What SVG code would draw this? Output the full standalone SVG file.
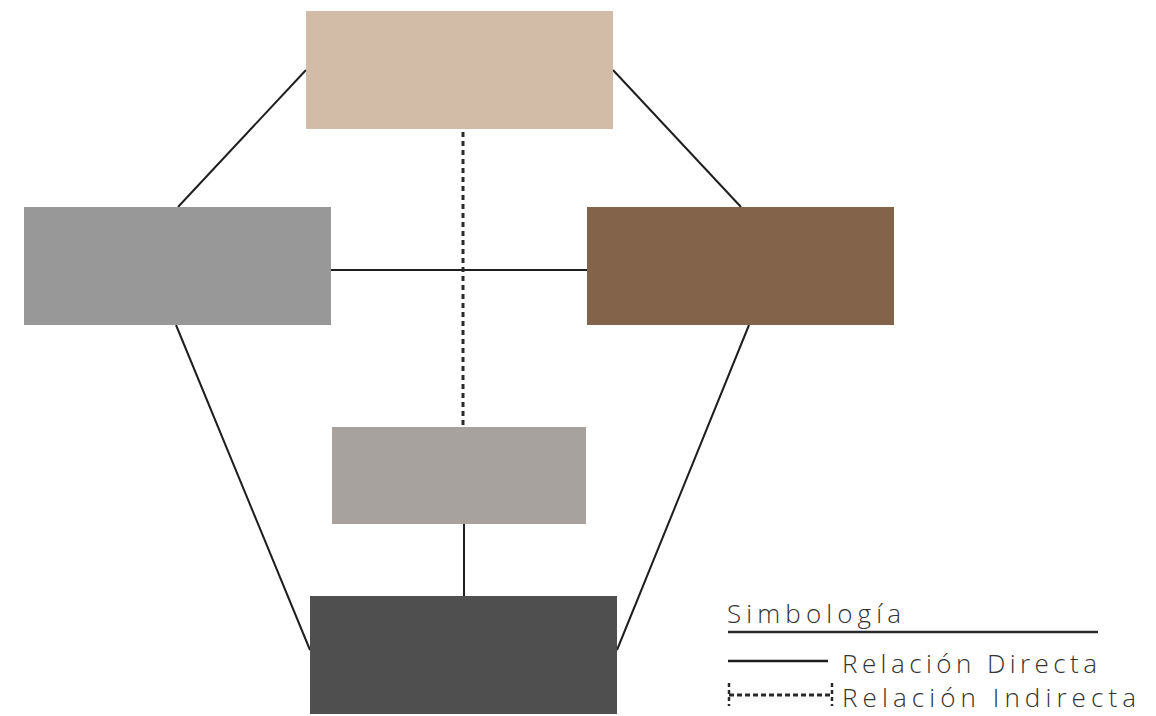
<svg xmlns="http://www.w3.org/2000/svg" width="1156" height="716" viewBox="0 0 1156 716">
<style>
.conn{stroke:#1e1e1e;stroke-width:2;fill:none}
.dot{stroke:#2a2a2a;stroke-width:3;stroke-dasharray:5 4;fill:none}
.lbl{font-family:"Open Sans",Lato,"Liberation Sans",sans-serif;font-weight:300;font-size:26px;fill:#333}
</style>
<rect width="1156" height="716" fill="#fff"/>
<g id="connectors">
<line class="conn" x1="306" y1="70" x2="178" y2="207"/>
<line class="conn" x1="613" y1="70" x2="741" y2="207"/>
<line class="conn" x1="331" y1="270" x2="587" y2="270"/>
<line class="conn" x1="176" y1="325" x2="310" y2="650"/>
<line class="conn" x1="749" y1="325" x2="617" y2="650"/>
<line class="conn" x1="464" y1="524" x2="464" y2="596"/>
<line class="dot" x1="463" y1="132" x2="463" y2="427"/>
</g>
<g id="node-top"><rect x="306" y="11" width="307" height="118" fill="#d2bca8"/></g>
<g id="node-left"><rect x="24" y="207" width="307" height="118" fill="#989898"/></g>
<g id="node-right"><rect x="587" y="207" width="307" height="118" fill="#83644a"/></g>
<g id="node-middle"><rect x="332" y="427" width="254" height="97" fill="#a8a29e"/></g>
<g id="node-bottom"><rect x="310" y="596" width="307" height="118" fill="#4f4f4f"/></g>
<g id="legend">
<text class="lbl" x="727" y="623" textLength="174" lengthAdjust="spacing">Simbología</text>
<line x1="728" y1="632" x2="1098" y2="632" stroke="#2a2a2a" stroke-width="2.5"/>
<line x1="728" y1="661" x2="828" y2="661" stroke="#1e1e1e" stroke-width="2.5"/>
<text class="lbl" x="842" y="673" textLength="255" lengthAdjust="spacing">Relación Directa</text>
<line x1="729" y1="695" x2="832" y2="695" stroke="#2a2a2a" stroke-width="3" stroke-dasharray="5 3"/>
<line x1="729" y1="683" x2="729" y2="706" stroke="#2a2a2a" stroke-width="2.5" stroke-dasharray="4 3"/>
<line x1="832" y1="683" x2="832" y2="706" stroke="#2a2a2a" stroke-width="2.5" stroke-dasharray="4 3"/>
<text class="lbl" x="842" y="707" textLength="294" lengthAdjust="spacing">Relación Indirecta</text>
</g>
</svg>
